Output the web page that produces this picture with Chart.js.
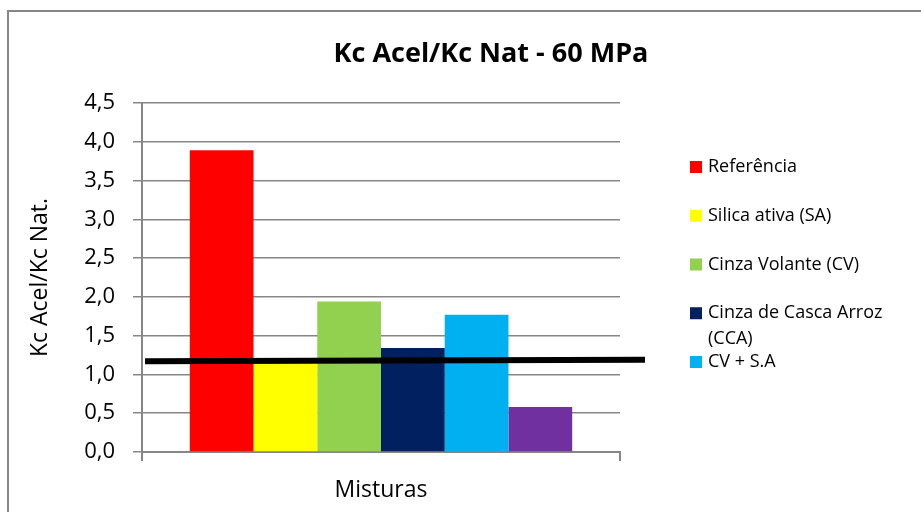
<!DOCTYPE html>
<html>
<head>
<meta charset="utf-8">
<script src="https://cdn.jsdelivr.net/npm/chart.js@4/dist/chart.umd.min.js"></script>
<style>
  html, body { margin: 0; padding: 0; background: #fff; }
  canvas { display: block; }
</style>
</head>
<body>
<canvas id="c" width="921" height="512"></canvas>
<script>
// ---- data ----
const categories = [''];
const seriesNames = ['Referência', 'Silica ativa (SA)', 'Cinza Volante (CV)', 'Cinza de Casca Arroz (CCA)', 'CV + S.A', 'Série 6'];
const seriesValues = [3.89, 1.16, 1.94, 1.34, 1.77, 0.58];
const seriesColors = ['#FF0000', '#FFFF00', '#92D050', '#002060', '#00B0F0', '#7030A0'];
const legendShown = [true, true, true, true, true, false];
const yTicks = [0, 0.5, 1, 1.5, 2, 2.5, 3, 3.5, 4, 4.5];
const refLineValues = [1.17, 1.19];   // black reference line (left end, right end)
const chartTitle = 'Kc Acel/Kc Nat - 60 MPa';
const yAxisTitle = 'Kc Acel/Kc Nat.';
const xAxisTitle = 'Misturas';

const FONT = '"Open Sans", "Liberation Sans", sans-serif';
const GRID = '#868686';

const datasets = seriesNames.map((name, i) => ({
  label: name,
  data: [seriesValues[i]],
  backgroundColor: seriesColors[i],
  borderWidth: 0,
  barPercentage: 1.0,
  categoryPercentage: 0.8
}));

const decorPlugin = {
  id: 'decor',
  beforeDraw(chart) {
    const ctx = chart.ctx;
    ctx.save();
    ctx.strokeStyle = GRID;
    ctx.lineWidth = 2;
    ctx.beginPath();
    ctx.moveTo(8, chart.height);
    ctx.lineTo(8, 11);
    ctx.lineTo(chart.width, 11);
    ctx.stroke();
    ctx.restore();
  },
  afterDraw(chart) {
    const ctx = chart.ctx;
    const area = chart.chartArea;
    const y = chart.scales.y;
    ctx.save();
    // reference line
    ctx.strokeStyle = '#000';
    ctx.lineWidth = 6;
    ctx.beginPath();
    ctx.moveTo(area.left + 3, y.getPixelForValue(refLineValues[0]));
    ctx.lineTo(area.right + 25, y.getPixelForValue(refLineValues[1]));
    ctx.stroke();

    // title
    ctx.fillStyle = '#000';
    ctx.font = 'bold 27px ' + FONT;
    ctx.textAlign = 'center';
    ctx.textBaseline = 'middle';
    ctx.fillText(chartTitle, 491, 54);

    // legend
    ctx.font = '18px ' + FONT;
    ctx.textAlign = 'left';
    const maxW = chart.width - 708 - 6;
    let yy = 167;
    seriesNames.forEach((name, i) => {
      if (!legendShown[i]) return;
      ctx.fillStyle = seriesColors[i];
      ctx.fillRect(690, yy - 6, 12, 12);
      ctx.fillStyle = '#000';
      const words = name.split(' ');
      const lines = [];
      let cur = '';
      words.forEach(w => {
        const t = cur ? cur + ' ' + w : w;
        if (ctx.measureText(t).width > maxW && cur) { lines.push(cur); cur = w; }
        else cur = t;
      });
      lines.push(cur);
      lines.forEach((ln, k) => ctx.fillText(ln, 708, yy + k * 26));
      yy += 48.75;
    });
    ctx.restore();
  }
};

new Chart(document.getElementById('c'), {
  type: 'bar',
  data: { labels: categories, datasets },
  options: {
    responsive: false,
    animation: false,
    devicePixelRatio: 1,
    layout: { padding: { top: 103, right: 301, bottom: 0, left: 10 } },
    plugins: {
      legend: { display: false },
      title: { display: false },
      tooltip: { enabled: false }
    },
    scales: {
      x: {
        grid: { display: true, drawOnChartArea: false, drawTicks: true, tickLength: 9, offset: true, color: GRID, lineWidth: 2 },
        border: { display: true, color: GRID, width: 2 },
        ticks: { display: false },
        title: { display: true, text: xAxisTitle, color: '#000', font: { family: FONT, size: 23 }, padding: { top: 0, bottom: 8 } },
        afterFit(scale) { scale.height = 60; }
      },
      y: {
        min: 0, max: 4.5,
        afterBuildTicks(scale) { scale.ticks = yTicks.map(v => ({ value: v })); },
        grid: { color: GRID, lineWidth: 1.5, tickLength: 9 },
        border: { display: true, color: GRID, width: 2 },
        ticks: {
          color: '#000',
          padding: 18,
          font: { family: FONT, size: 22 },
          callback: v => v.toFixed(1).replace('.', ',')
        },
        title: { display: true, text: yAxisTitle, color: '#000', font: { family: FONT, size: 23 }, padding: { top: 17, bottom: 0 } },
        afterFit(scale) { scale.width = 132; }
      }
    }
  },
  plugins: [decorPlugin]
});
</script>
</body>
</html>
